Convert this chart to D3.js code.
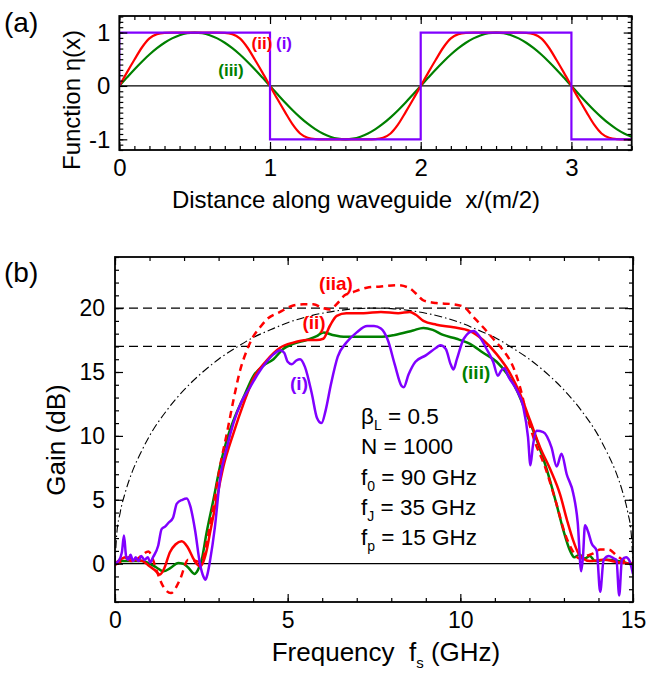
<!DOCTYPE html>
<html><head><meta charset="utf-8">
<script src="https://cdn.jsdelivr.net/npm/d3@7"></script>
<style>
body{margin:0;background:#fff;}
svg{display:block;font-family:"Liberation Sans",Arial,sans-serif;}
text{white-space:pre;}
</style></head><body>
<svg id="c" width="647" height="675"></svg>
<script>
// ---------------- DATA: panel (a) ----------------
const distX = d3.range(69).map(i => +(i * 0.05).toFixed(2)); // sample positions 0..3.4
const etaSine = [0,.156,.309,.454,.588,.707,.809,.891,.951,.988,1,.988,.951,.891,.809,.707,.588,.454,.309,.156,0,
  -.156,-.309,-.454,-.588,-.707,-.809,-.891,-.951,-.988,-1,-.988,-.951,-.891,-.809,-.707,-.588,-.454,-.309,-.156,0,
  .156,.309,.454,.588,.707,.809,.891,.951,.988,1,.988,.951,.891,.809,.707,.588,.454,.309,.156,0,
  -.156,-.309,-.454,-.588,-.707,-.809,-.891,-.951];
const etaSmooth = [0,.25,.49,.72,.89,.97,.995,1,1,1,1,1,1,1,.995,.97,.89,.72,.49,.25,0,
  -.25,-.49,-.72,-.89,-.97,-.995,-1,-1,-1,-1,-1,-1,-1,-.995,-.97,-.89,-.72,-.49,-.25,0,
  .25,.49,.72,.89,.97,.995,1,1,1,1,1,1,1,.995,.97,.89,.72,.49,.25,0,
  -.25,-.49,-.72,-.89,-.97,-.995,-1,-1];
const etaSquare = [[0,0],[0,1],[1,1],[1,-1],[2,-1],[2,1],[3,1],[3,-1],[3.4,-1]];
const aXTicks = [0,1,2,3];
const aYTicks = [-1,0,1];

// ---------------- DATA: panel (b) ----------------
const gainI = [[0,0],[0.1,0.2],[0.2,0.9],[0.26,2.2],[0.32,0.6],[0.38,0.3],[0.45,0.7],[0.52,0.2],[0.6,0.5],[0.68,0.2],[0.76,0.6],[0.85,0.3],[0.95,0.5],[1.02,0.1],[1.1,0.5],[1.25,1.4],[1.35,2.7],[1.45,2.9],[1.55,3.2],[1.68,3.6],[1.79,4.7],[1.95,5.0],[2.08,5.1],[2.18,4.5],[2.32,2.6],[2.46,0.0],[2.56,-1.0],[2.62,-1.25],[2.68,-0.8],[2.75,0.2],[2.89,2.8],[3.04,6.6],[3.24,9.1],[3.43,11.0],[3.65,12.6],[3.91,13.8],[4.15,14.9],[4.39,15.8],[4.6,16.4],[4.78,16.7],[4.9,16.5],[5.0,15.8],[5.12,15.6],[5.25,15.9],[5.36,16.0],[5.5,15.4],[5.7,13.3],[5.85,11.4],[5.98,11.0],[6.1,12.0],[6.25,14.0],[6.45,16.2],[6.7,17.3],[7.0,18.1],[7.3,18.6],[7.5,18.6],[7.7,18.4],[7.9,17.5],[8.1,15.6],[8.3,13.9],[8.36,13.8],[8.5,14.8],[8.7,15.8],[9.0,16.3],[9.3,16.9],[9.42,17.1],[9.58,16.8],[9.72,15.6],[9.8,15.2],[9.9,16.0],[10.1,17.6],[10.38,18.2],[10.55,17.8],[10.76,16.8],[10.95,15.8],[11.09,14.7],[11.18,15.1],[11.27,15.3],[11.4,14.6],[11.63,13.6],[11.82,12.3],[11.96,9.9],[12.03,7.7],[12.1,9.2],[12.21,10.4],[12.4,10.3],[12.64,9.1],[12.79,7.6],[12.93,8.6],[13.08,7.0],[13.27,5.5],[13.4,3.2],[13.5,-0.6],[13.55,0.5],[13.61,3.0],[13.7,2.5],[13.8,1.6],[13.95,1.0],[14.05,-2.2],[14.15,0.3],[14.3,0.6],[14.45,0.4],[14.52,0.3],[14.6,-2.5],[14.68,0.3],[14.8,0.5],[14.9,0.2],[15.0,-0.8]];
const gainII = [[0,0],[0.15,0.3],[0.3,0.5],[0.45,0.2],[0.6,0.3],[0.8,0.2],[1.0,-0.2],[1.15,-0.5],[1.3,-0.85],[1.42,-0.4],[1.59,0.9],[1.75,1.5],[1.93,1.75],[2.1,1.3],[2.25,0.5],[2.36,0.0],[2.46,-0.2],[2.55,0.1],[2.65,1.0],[2.75,2.4],[2.94,5.0],[3.14,7.6],[3.43,10.2],[3.72,12.5],[4.01,14.5],[4.39,15.9],[4.78,16.9],[5.16,17.3],[5.55,17.5],[5.84,17.5],[6.03,17.6],[6.22,18.6],[6.42,19.4],[6.7,19.6],[7.2,19.6],[7.7,19.7],[8.2,19.6],[8.54,19.7],[8.7,19.5],[8.93,19.0],[9.31,18.7],[9.8,18.5],[10.28,18.2],[10.66,17.5],[11.05,16.4],[11.44,14.9],[11.73,13.3],[12.02,11.2],[12.31,9.1],[12.6,7.4],[12.89,5.4],[13.09,3.4],[13.27,1.8],[13.42,0.8],[13.55,0.4],[13.75,0.2],[14.14,0.3],[14.6,0.1],[15.0,0.0]];
const gainIIa = [[0,-0.1],[0.2,0.2],[0.4,0.5],[0.55,0.2],[0.75,0.6],[0.97,0.95],[1.1,0.3],[1.2,-0.5],[1.4,-1.8],[1.62,-2.3],[1.88,-1.25],[2.12,0.3],[2.36,0.2],[2.5,0.1],[2.65,1.6],[2.85,4.5],[3.04,7.6],[3.24,10.2],[3.43,12.8],[3.62,15.1],[3.82,16.7],[4.01,17.8],[4.2,18.5],[4.39,19.1],[4.78,19.7],[5.16,20.2],[5.45,20.3],[5.74,20.3],[6.03,20.0],[6.23,19.9],[6.45,20.4],[6.65,21.0],[6.85,21.2],[7.29,21.6],[7.7,21.7],[8.16,21.8],[8.5,21.6],[8.73,21.1],[8.93,20.6],[9.3,20.4],[9.8,20.3],[10.1,20.1],[10.38,19.3],[10.66,18.5],[10.95,17.6],[11.24,16.7],[11.53,15.4],[11.73,13.8],[11.92,11.7],[12.15,9.6],[12.45,7.6],[12.75,5.0],[13.05,2.2],[13.25,1.0],[13.45,0.4],[13.65,0.6],[13.85,0.8],[14.05,1.1],[14.3,1.1],[14.5,0.7],[14.7,0.3],[15.0,0.0]];
const gainIII = [[0,0],[0.2,0.2],[0.5,0.2],[0.8,0.2],[1.0,0.0],[1.2,-0.3],[1.4,-0.6],[1.6,-0.35],[1.83,0.05],[1.98,0.0],[2.12,-0.3],[2.3,-0.8],[2.4,-0.5],[2.51,0.3],[2.65,2.4],[2.85,5.0],[3.04,7.6],[3.24,9.7],[3.43,11.2],[3.72,13.0],[4.01,14.7],[4.3,15.5],[4.59,16.0],[4.87,16.8],[5.16,17.2],[5.55,17.5],[5.84,17.8],[6.03,18.1],[6.3,17.9],[6.7,17.75],[7.2,17.75],[7.67,17.75],[8.1,17.9],[8.63,18.25],[8.93,18.45],[9.2,18.3],[9.5,17.9],[9.89,17.6],[10.28,17.2],[10.66,16.5],[11.05,15.8],[11.34,14.9],[11.63,13.6],[11.92,11.7],[12.21,9.7],[12.5,7.4],[12.79,4.6],[12.98,2.65],[13.18,1.0],[13.3,0.5],[13.45,0.7],[13.6,0.4],[13.75,0.6],[13.9,0.2],[14.2,0.3],[14.6,0.2],[15.0,-0.1]];
const gainIdeal = [[0,0],[0.05,2.3],[0.15,4.0],[0.3,5.6],[0.5,7.2],[0.75,8.7],[1.0,10.0],[1.5,12.0],[2.0,13.6],[2.5,14.9],[3.0,16.0],[3.5,16.9],[4.0,17.7],[4.5,18.3],[5.0,18.86],[5.5,19.28],[6.0,19.6],[6.5,19.82],[7.0,19.96],[7.5,20.0],[8.0,19.96],[8.5,19.82],[9.0,19.6],[9.5,19.28],[10.0,18.86],[10.5,18.3],[11.0,17.7],[11.5,16.9],[12.0,16.0],[12.5,14.9],[13.0,13.6],[13.5,12.0],[14.0,10.0],[14.25,8.7],[14.5,7.2],[14.7,5.6],[14.85,4.0],[14.95,2.3],[15.0,0]];
const refLevels = [20, 17];
const bXTicks = [0,5,10,15];
const bYTicks = [0,5,10,15,20];
const params = [["β","L"," = 0.5"],["N",""," = 1000"],["f","0"," = 90 GHz"],["f","J"," = 35 GHz"],["f","p"," = 15 GHz"]];

// ---------------- STYLE ----------------
const C = {purple:"#8000ff", red:"#ff0000", green:"#008000"};
const svg = d3.select("#c");

function frame(g, x, y, W, H, xMaj, xMin, yMaj, yMin, padX, padY, fs) {
  const fmt = d => String(d);
  const add = (ax, tr) => { const a = g.append("g").attr("transform", tr).call(ax); a.select(".domain").remove(); a.selectAll("line").attr("stroke","#000").attr("stroke-width",1.2); a.selectAll("text").attr("font-size",fs).attr("fill","#000").attr("font-family","Liberation Sans, Arial, sans-serif"); return a; };
  add(d3.axisBottom(x).tickValues(xMin).tickSize(-4).tickFormat(""), `translate(0,${H})`);
  add(d3.axisBottom(x).tickValues(xMaj).tickSize(-8).tickPadding(padX).tickFormat(fmt), `translate(0,${H})`);
  add(d3.axisTop(x).tickValues(xMin).tickSize(-4).tickFormat(""), `translate(0,0)`);
  add(d3.axisTop(x).tickValues(xMaj).tickSize(-8).tickFormat(""), `translate(0,0)`);
  add(d3.axisLeft(y).tickValues(yMin).tickSize(-4).tickFormat(""), `translate(0,0)`);
  add(d3.axisLeft(y).tickValues(yMaj).tickSize(-8).tickPadding(padY).tickFormat(fmt), `translate(0,0)`);
  add(d3.axisRight(y).tickValues(yMin).tickSize(-4).tickFormat(""), `translate(${W},0)`);
  add(d3.axisRight(y).tickValues(yMaj).tickSize(-8).tickFormat(""), `translate(${W},0)`);
  g.append("rect").attr("width",W).attr("height",H).attr("fill","none").attr("stroke","#000").attr("stroke-width",1.8);
}

// ---------------- PANEL (a) ----------------
{
  const L = 119.3, T = 16, W = 631.7 - 119.3, H = 150 - 16;
  const g = svg.append("g").attr("transform",`translate(${L},${T})`);
  const x = d3.scaleLinear().domain([0,3.4]).range([0,W]);
  const y = d3.scaleLinear().domain([-1.2,1.31]).range([H,0]);
  g.append("defs").append("clipPath").attr("id","ca").append("rect").attr("width",W).attr("height",H);
  const pl = g.append("g").attr("clip-path","url(#ca)");
  pl.append("line").attr("x1",0).attr("x2",W).attr("y1",y(0)).attr("y2",y(0)).attr("stroke","#000").attr("stroke-width",1.2);
  const ln = d3.line().x(d=>x(d[0])).y(d=>y(d[1])).curve(d3.curveMonotoneX);
  pl.append("path").attr("d", ln(distX.map((v,i)=>[v,etaSine[i]]))).attr("fill","none").attr("stroke",C.green).attr("stroke-width",2.2);
  pl.append("path").attr("d", ln(distX.map((v,i)=>[v,etaSmooth[i]]))).attr("fill","none").attr("stroke",C.red).attr("stroke-width",2.2);
  pl.append("path").attr("d", d3.line().x(d=>x(d[0])).y(d=>y(d[1]))(etaSquare)).attr("fill","none").attr("stroke",C.purple).attr("stroke-width",2.2);
  frame(g, x, y, W, H, aXTicks, d3.range(0,3.41,0.1).map(v=>+v.toFixed(1)), aYTicks, d3.range(-1.2,1.31,0.1).map(v=>+v.toFixed(1)), 9, 9, 24);
  const lab = (t,cx,by,col) => svg.append("text").attr("x",cx).attr("y",by).attr("text-anchor","middle").attr("font-size",17).attr("font-weight","bold").attr("fill",col).text(t);
  lab("(ii)",262,49,C.red); lab("(i)",284,49,C.purple); lab("(iii)",231,76,C.green);
  svg.append("text").attr("x",4).attr("y",32).attr("font-size",28).text("(a)");
  svg.append("text").attr("transform","translate(80,100) rotate(-90)").attr("text-anchor","middle").attr("font-size",24).text("Function η(x)");
  svg.append("text").attr("x",356).attr("y",208).attr("text-anchor","middle").attr("font-size",24).text("Distance along waveguide  x/(m/2)");
}

// ---------------- PANEL (b) ----------------
{
  const L = 115, T = 257, W = 633 - 115, H = 602 - 257;
  const g = svg.append("g").attr("transform",`translate(${L},${T})`);
  const x = d3.scaleLinear().domain([0,15]).range([0,W]);
  const y = d3.scaleLinear().domain([-3,24]).range([H,0]);
  g.append("defs").append("clipPath").attr("id","cb").append("rect").attr("width",W).attr("height",H);
  const pl = g.append("g").attr("clip-path","url(#cb)");
  pl.append("line").attr("x1",0).attr("x2",W).attr("y1",y(0)).attr("y2",y(0)).attr("stroke","#000").attr("stroke-width",1.3);
  refLevels.forEach(v => pl.append("line").attr("x1",0).attr("x2",W).attr("y1",y(v)).attr("y2",y(v)).attr("stroke","#000").attr("stroke-width",1.3).attr("stroke-dasharray","9,5"));
  const ln = d3.line().x(d=>x(d[0])).y(d=>y(d[1])).curve(d3.curveMonotoneX);
  pl.append("path").attr("d", ln(gainIdeal)).attr("fill","none").attr("stroke","#000").attr("stroke-width",1.1).attr("stroke-dasharray","8,3,1.5,3");
  pl.append("path").attr("d", ln(gainIII)).attr("fill","none").attr("stroke",C.green).attr("stroke-width",2.5);
  pl.append("path").attr("d", ln(gainII)).attr("fill","none").attr("stroke",C.red).attr("stroke-width",2.5);
  pl.append("path").attr("d", ln(gainIIa)).attr("fill","none").attr("stroke",C.red).attr("stroke-width",2.5).attr("stroke-dasharray","7,5");
  pl.append("path").attr("d", ln(gainI)).attr("fill","none").attr("stroke",C.purple).attr("stroke-width",2.5);
  frame(g, x, y, W, H, bXTicks, d3.range(0,16), bYTicks, d3.range(-3,25), 10, 10, 23);
  const lab = (t,cx,by,col) => svg.append("text").attr("x",cx).attr("y",by).attr("text-anchor","middle").attr("font-size",19).attr("font-weight","bold").attr("fill",col).text(t);
  lab("(iia)",336,290,C.red); lab("(ii)",314,329,C.red); lab("(i)",299,390,C.purple); lab("(iii)",476,379,C.green);
  const base = [424,454,485,515,545];
  params.forEach((p,i) => {
    const t = svg.append("text").attr("x",361).attr("y",base[i]).attr("font-size",22.5);
    t.append("tspan").text(p[0]);
    if (p[1]) { t.append("tspan").attr("font-size",14).attr("dy",6).text(p[1]); t.append("tspan").attr("dy",-6).text(p[2]); }
    else t.append("tspan").text(p[2]);
  });
  svg.append("text").attr("x",4).attr("y",282).attr("font-size",28).text("(b)");
  svg.append("text").attr("transform","translate(65,440) rotate(-90)").attr("text-anchor","middle").attr("font-size",26).text("Gain (dB)");
  const xl = svg.append("text").attr("x",386).attr("y",661).attr("text-anchor","middle").attr("font-size",26);
  xl.append("tspan").text("Frequency  f");
  xl.append("tspan").attr("font-size",15).attr("dy",7).text("s");
  xl.append("tspan").attr("dy",-7).text(" (GHz)");
}
</script></body></html>
